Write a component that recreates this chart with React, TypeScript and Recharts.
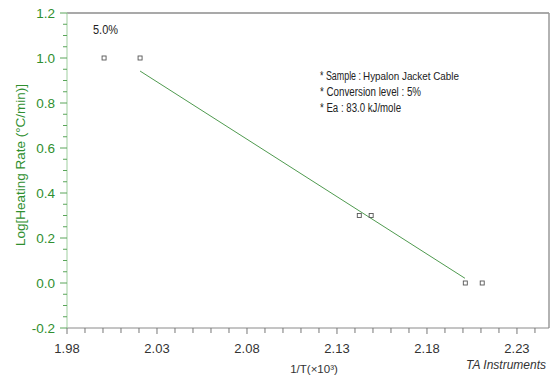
import React from 'react';
import { ComposedChart, Scatter, XAxis, YAxis, ReferenceLine } from 'recharts';

// Measured points: 1/T (x10^3) vs log(heating rate)
const inverseT = [2.0006, 2.0206, 2.1424, 2.149, 2.2013, 2.2107];
const logRate = [1.0, 1.0, 0.3, 0.3, 0.0, 0.0];

// Fitted line end points
const fitX = [2.0206, 2.2011];
const fitY = [0.942, 0.021];

const xMajorTicks = [1.98, 2.03, 2.08, 2.13, 2.18, 2.23];
const xMinorTicks = [1.99, 2.0, 2.01, 2.02, 2.04, 2.05, 2.06, 2.07, 2.09, 2.1, 2.11, 2.12, 2.14, 2.15, 2.16, 2.17, 2.19, 2.2, 2.21, 2.22, 2.24];
const yMajorTicks = [-0.2, 0.0, 0.2, 0.4, 0.6, 0.8, 1.0, 1.2];
const yMinorTicks = [-0.15, -0.1, -0.05, 0.05, 0.1, 0.15, 0.25, 0.3, 0.35, 0.45, 0.5, 0.55, 0.65, 0.7, 0.75, 0.85, 0.9, 0.95, 1.05, 1.1, 1.15];

const X_MIN = 1.98;
const X_MAX = 2.2478;

const points = inverseT.map((x, i) => ({ x, y: logRate[i] }));
const fit = fitX.map((x, i) => ({ x, y: fitY[i] }));

const allX = [...xMajorTicks, ...xMinorTicks].sort((a, b) => a - b);
const allY = [...yMajorTicks, ...yMinorTicks].sort((a, b) => a - b);

const isMajor = (v: number, arr: number[]) => arr.some((m) => Math.abs(m - v) < 1e-6);

const FONT = '"Liberation Sans", Arial, sans-serif';
const GREEN = '#2f8f2f';

const XTick = (props: any) => {
  const { x, y, payload } = props;
  const major = isMajor(payload.value, xMajorTicks);
  return (
    <g>
      <line x1={x} x2={x} y1={y} y2={y + (major ? 6 : 5)} stroke="#777" strokeWidth={1} />
      {major && (
        <text x={x} y={y + 25} textAnchor="middle" fontSize={13} fontFamily={FONT} fill="#333">
          {payload.value.toFixed(2)}
        </text>
      )}
    </g>
  );
};

const YTick = (props: any) => {
  const { x, y, payload } = props;
  const major = isMajor(payload.value, yMajorTicks);
  return (
    <g>
      <line x1={x - (major ? 7 : 4)} x2={x} y1={y} y2={y} stroke="#5aa55a" strokeWidth={1} />
      {major && (
        <text x={x - 12} y={y + 4.5} textAnchor="end" fontSize={13.5} fontFamily={FONT} fill={GREEN}>
          {payload.value.toFixed(1)}
        </text>
      )}
    </g>
  );
};

const Square = (props: any) => {
  const { cx, cy } = props;
  if (cx == null || cy == null) return <g />;
  return <rect x={cx - 2} y={cy - 2} width={4} height={4} fill="#fff" stroke="#555" strokeWidth={0.9} />;
};

const NoDot = () => <g />;

export default function App() {
  return (
    <div style={{ position: 'absolute', left: 0, top: 0, width: 554, height: 376, background: '#fff' }}>
      <ComposedChart width={554} height={376} margin={{ top: 13, right: 5, bottom: 0, left: 10 }}>
        <XAxis
          type="number"
          dataKey="x"
          domain={[X_MIN, X_MAX]}
          ticks={allX}
          interval={0}
          tickSize={0}
          tickMargin={0}
          tick={<XTick />}
          height={48}
          stroke="#8a8a8a"
          allowDataOverflow
        />
        <YAxis
          type="number"
          dataKey="y"
          domain={[-0.2, 1.2]}
          ticks={allY}
          interval={0}
          tickSize={0}
          tickMargin={0}
          tick={<YTick />}
          width={57}
          stroke="#9fcf9f"
          allowDataOverflow
        />
        <ReferenceLine y={1.2} stroke="#8c8c8c" strokeWidth={1.5} />
        <ReferenceLine x={X_MAX} stroke="#9a9a9a" strokeWidth={1.5} />
        <Scatter
          data={fit}
          line={{ stroke: '#4f9a4f', strokeWidth: 1 }}
          shape={<NoDot />}
          isAnimationActive={false}
        />
        <Scatter data={points} shape={<Square />} isAnimationActive={false} />
      </ComposedChart>
      <svg
        width={554}
        height={376}
        style={{ position: 'absolute', left: 0, top: 0, pointerEvents: 'none' }}
      >
        <text
          x={20}
          y={165}
          transform="rotate(-90 20 165)"
          dy={4.5}
          textAnchor="middle"
          fontSize={13.5}
          fontFamily={FONT}
          fill={GREEN}
        >
          Log[Heating Rate (°C/min)]
        </text>
        <text x={314} y={373} textAnchor="middle" fontSize={11.5} fontFamily={FONT} fill="#333">
          1/T(×10³)
        </text>
        <text x={546} y={369} textAnchor="end" fontSize={12} fontStyle="italic" fontFamily={FONT} fill="#333">
          TA Instruments
        </text>
        <text x={93} y={34} fontSize={12} fontFamily={FONT} fill="#222" textLength={25} lengthAdjust="spacingAndGlyphs">
          5.0%
        </text>
        <text x={320} y={80} fontSize={12} fontFamily={FONT} fill="#222" textLength={41} lengthAdjust="spacingAndGlyphs">
          * Sample :
        </text>
        <text x={363} y={80} fontSize={10.5} fontFamily={FONT} fill="#222" textLength={96} lengthAdjust="spacingAndGlyphs">
          Hypalon Jacket Cable
        </text>
        <text x={320} y={96} fontSize={12} fontFamily={FONT} fill="#222" textLength={101} lengthAdjust="spacingAndGlyphs">
          * Conversion level : 5%
        </text>
        <text x={320} y={112} fontSize={12} fontFamily={FONT} fill="#222" textLength={81} lengthAdjust="spacingAndGlyphs">
          * Ea : 83.0 kJ/mole
        </text>
      </svg>
    </div>
  );
}
